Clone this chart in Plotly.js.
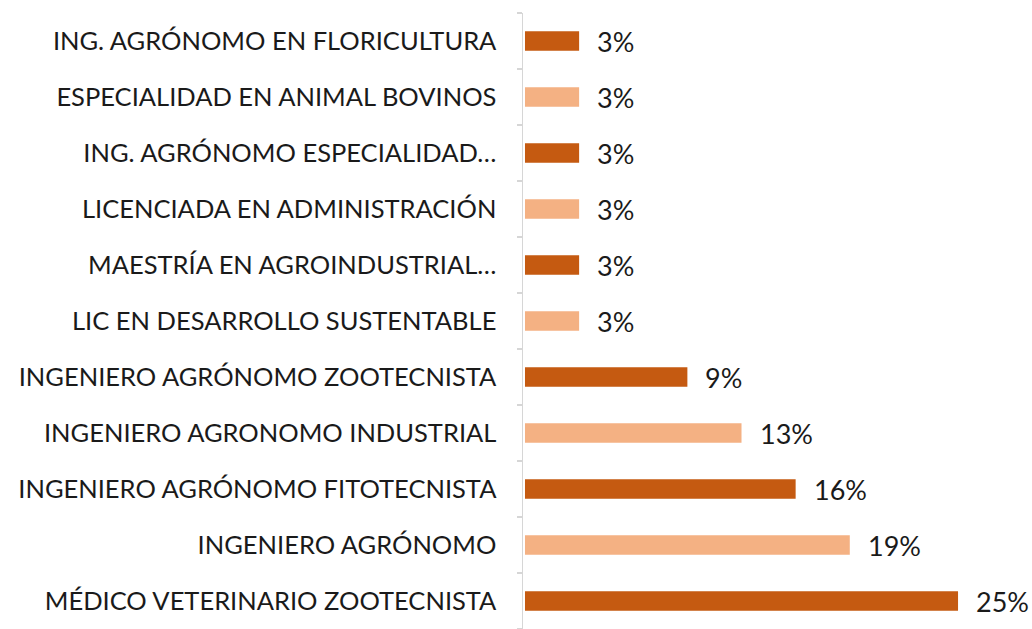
<!DOCTYPE html>
<html>
<head>
<meta charset="utf-8">
<script src="https://cdn.plot.ly/plotly-3.0.1.min.js"></script>
<style>html,body{margin:0;padding:0;background:#fff;}#chart{width:1032px;height:629px;}</style>
</head>
<body>
<div id="chart"></div>
<script>
// Categories listed bottom to top
const categories = [
  "MÉDICO VETERINARIO ZOOTECNISTA",
  "INGENIERO AGRÓNOMO",
  "INGENIERO AGRÓNOMO FITOTECNISTA",
  "INGENIERO AGRONOMO INDUSTRIAL",
  "INGENIERO AGRÓNOMO ZOOTECNISTA",
  "LIC EN DESARROLLO SUSTENTABLE",
  "MAESTRÍA EN AGROINDUSTRIAL…",
  "LICENCIADA EN ADMINISTRACIÓN",
  "ING. AGRÓNOMO ESPECIALIDAD…",
  "ESPECIALIDAD EN ANIMAL BOVINOS",
  "ING. AGRÓNOMO EN FLORICULTURA"
];
const values = [0.25, 0.1875, 0.15625, 0.125, 0.09375, 0.03125, 0.03125, 0.03125, 0.03125, 0.03125, 0.03125];
const valueLabels = ["25%", "19%", "16%", "13%", "9%", "3%", "3%", "3%", "3%", "3%", "3%"];
const barColors = ["#C55A11", "#F4B183", "#C55A11", "#F4B183", "#C55A11", "#F4B183", "#C55A11", "#F4B183", "#C55A11", "#F4B183", "#C55A11"];

const FONT = "Lato, 'Open Sans', sans-serif";

const trace = {
  type: "bar",
  orientation: "h",
  x: values,
  y: categories,
  marker: {color: barColors, line: {width: 0}},
  width: 0.35,
  hoverinfo: "none"
};

const annotations = categories.map((c, i) => ({
  x: values[i], y: c, xref: "x", yref: "y",
  text: valueLabels[i], showarrow: false,
  xanchor: "left", yanchor: "middle", xshift: 16,
  font: {family: FONT, size: 27, color: "#1a1a1a"}
}));

const layout = {
  width: 1032, height: 629,
  margin: {l: 523, r: 0, t: 13, b: 0},
  paper_bgcolor: "#ffffff", plot_bgcolor: "#ffffff",
  showlegend: false,
  xaxis: {range: [-0.00115, 0.2927], visible: false, fixedrange: true},
  yaxis: {
    type: "category",
    categoryorder: "array", categoryarray: categories,
    showline: true, linecolor: "#d6d6d6", linewidth: 1.5,
    ticks: "outside", tickson: "boundaries", ticklen: 5, tickcolor: "#d6d6d6", tickwidth: 1.5,
    ticklabelstandoff: 20,
    tickfont: {family: FONT, size: 25.5, color: "#1a1a1a"},
    showgrid: false, zeroline: false, fixedrange: true
  },
  annotations: annotations
};

Plotly.newPlot("chart", [trace], layout, {displayModeBar: false, staticPlot: true});
</script>
</body>
</html>
